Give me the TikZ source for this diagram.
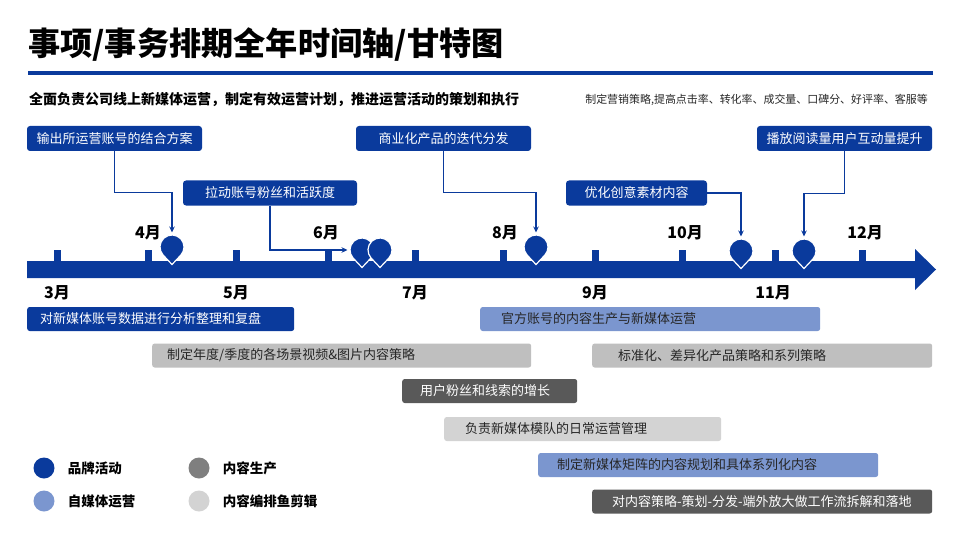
\documentclass[tikz,border=0pt]{standalone}
\usepackage{fontspec}
\setmainfont{Noto Sans CJK SC}
\usetikzlibrary{arrows.meta, positioning}
\definecolor{cblue}{HTML}{0A3A9C}
\definecolor{clight}{HTML}{7B96CF}
\definecolor{cgray}{HTML}{BFBFBF}
\definecolor{cpale}{HTML}{D3D3D3}
\definecolor{cdark}{HTML}{595959}
\definecolor{cmid}{HTML}{7F7F7F}
\definecolor{cink}{HTML}{262626}

\tikzset{
  pin/.pic={
    \filldraw[fill=cblue, draw=white, line width=1.2pt]
      (0,17.5) -- (137.4:12) arc[start angle=137.4, end angle=402.6, radius=12] -- cycle;
    \coordinate (-top) at (0,-14.5);
    \coordinate (-left) at (-14.5,0);
  }
}

\begin{document}
\begin{tikzpicture}[
  x=1pt, y=-1pt,
  title/.style={anchor=west, inner sep=0pt, font=\fontsize{32.2}{35}\selectfont\bfseries},
  lead/.style={anchor=west, inner sep=0pt, font=\fontsize{14}{16}\selectfont\bfseries},
  aside/.style={anchor=east, inner sep=0pt, text=cink, font=\fontsize{10.95}{12}\selectfont},
  callout/.style={fill=cblue, text=white, rounded corners=3pt, minimum height=25pt,
                  inner xsep=0pt, font=\fontsize{13}{15}\selectfont},
  gbar/.style={anchor=west, rounded corners=2.5pt, minimum height=24pt, inner ysep=0pt,
               align=left, font=\fontsize{13}{15}\selectfont},
  month/.style={inner sep=0pt, font=\fontsize{16}{18}\selectfont\bfseries},
  dot/.style={circle, minimum size=21pt, inner sep=0pt},
  legtxt/.style={inner sep=0pt, font=\fontsize{13.5}{16}\selectfont\bfseries},
  link/.style={draw=cblue, line width=1.4pt, -{Stealth[length=6pt, width=5.5pt]}}
]
\useasboundingbox (0,0) rectangle (960,540);

% heading
\node[title] (head) at (28,45) {事项/事务排期全年时间轴/甘特图};
\fill[cblue] (28,71) rectangle (933,75);
\node[lead] (sub) at (29,100) {全面负责公司线上新媒体运营，制定有效运营计划，推进运营活动的策划和执行};
\node[aside] (memo) at (928,100) {制定营销策略,提高点击率、转化率、成交量、口碑分、好评率、客服等};

% time axis
\fill[cblue] (27,261) -- (915,261) -- (915,249) -- (936,269.5) -- (915,290) -- (915,278) -- (27,278) -- cycle;
\foreach \x in {57,148,236,328,415,503,595,682,775,862}
  \fill[cblue] (\x-3.5,250) rectangle (\x+3.5,262);
\foreach \x/\m in {57/3,236/5,415/7,595/9,773/11}
  \node[month] at (\x,293) {{\m}月};
\foreach \x/\m in {148/4,326/6,505/8,685/10,865/12}
  \node[month] at (\x,233) {{\m}月};

% milestones
\pic (p1) at (172,247) {pin};
\pic (p6a) at (362,250) {pin};
\pic (p6b) at (380,250) {pin};
\pic (p8) at (536,247) {pin};
\pic (p10) at (741,251) {pin};
\pic (p11) at (804,251) {pin};

\node[callout, minimum width=175pt] (c1) at (114.5,138.5) {输出所运营账号的结合方案};
\node[callout, minimum width=174pt] (c2) at (270,193) {拉动账号粉丝和活跃度};
\node[callout, minimum width=175pt] (c3) at (443.5,138.5) {商业化产品的迭代分发};
\node[callout, minimum width=141pt] (c4) at (636.5,193) {优化创意素材内容};
\node[callout, minimum width=175pt] (c5) at (844.5,138.5) {播放阅读量用户互动量提升};

\draw[link] (c1.south) -- ++(0,41) -| (p1-top);
\draw[link] (c2.south) |- (p6a-left);
\draw[link] (c3.south) -- ++(0,41) -| (p8-top);
\draw[link] (c4.east) -| (p10-top);
\draw[link] (c5.south) -- ++(0,42) -| (p11-top);

% gantt rows
\node[gbar, fill=cblue, text=white, inner xsep=13pt, text width=241pt] (g1) at (27,319) {对新媒体账号数据进行分析整理和复盘};
\node[gbar, fill=clight, text=cink, inner xsep=21pt, text width=298pt] (g2) at (480,319) {官方账号的内容生产与新媒体运营};
\node[gbar, fill=cgray, text=cink, inner xsep=15pt, text width=349pt] (g3) at (152,355.5) {制定年度/季度的各场景视频\&图片内容策略};
\node[gbar, fill=cgray, text=cink, inner xsep=26pt, text width=288pt] (g4) at (592,355.5) {标准化、差异化产品策略和系列策略};
\node[gbar, fill=cdark, text=white, inner xsep=18pt, text width=139pt] (g5) at (402,391) {用户粉丝和线索的增长};
\node[gbar, fill=cpale, text=cink, inner xsep=21pt, text width=235pt] (g6) at (444,429) {负责新媒体模队的日常运营管理};
\node[gbar, fill=clight, text=cink, inner xsep=19pt, text width=302pt] (g7) at (538,465) {制定新媒体矩阵的内容规划和具体系列化内容};
\node[gbar, fill=cdark, text=white, inner xsep=20pt, text width=300pt] (g8) at (592,501.5) {对内容策略-策划-分发-端外放大做工作流拆解和落地};

% legend
\node[dot, fill=cblue] (l1) at (44,468) {};
\node[dot, fill=clight] (l2) at (44,501) {};
\node[dot, fill=cmid] (l3) at (199,468) {};
\node[dot, fill=cpale] (l4) at (199,501) {};
\node[legtxt, right=13pt of l1] {品牌活动};
\node[legtxt, right=13pt of l2] {自媒体运营};
\node[legtxt, right=13pt of l3] {内容生产};
\node[legtxt, right=13pt of l4] {内容编排鱼剪辑};
\end{tikzpicture}
\end{document}
